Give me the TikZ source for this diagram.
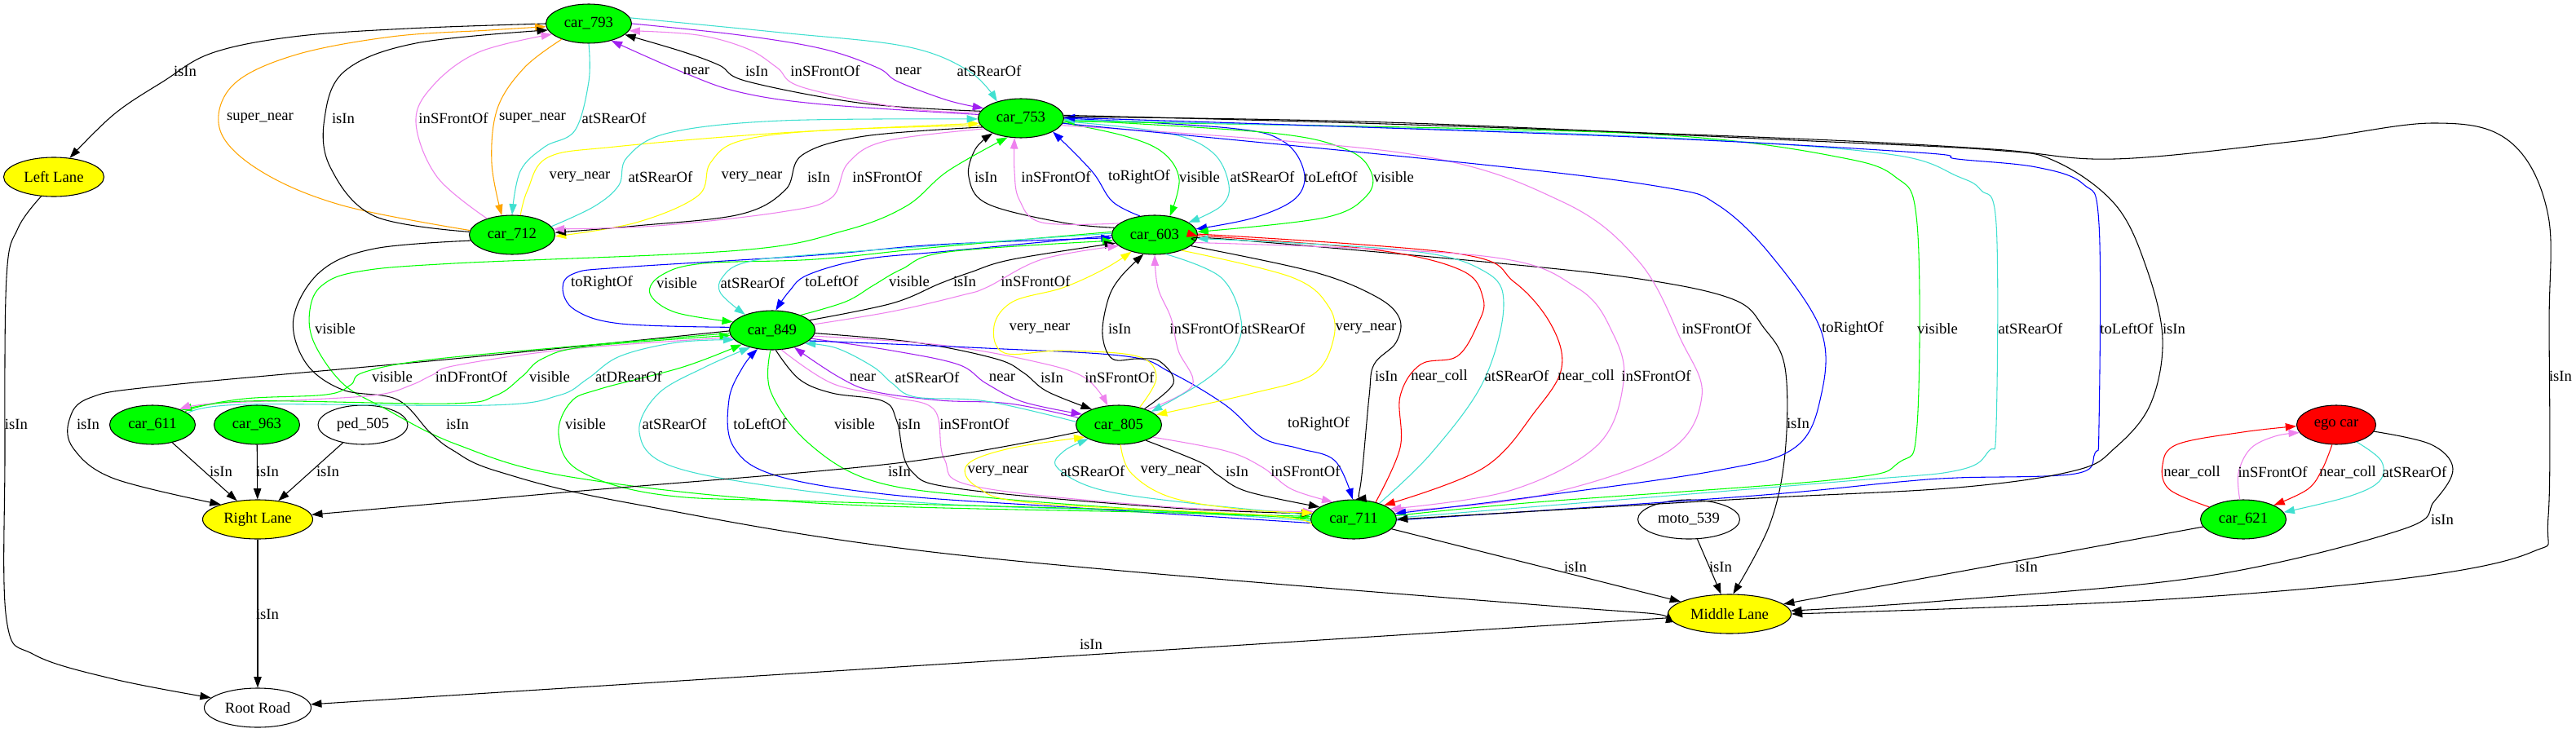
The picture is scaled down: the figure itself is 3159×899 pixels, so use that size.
\documentclass[tikz,border=0pt]{standalone}
\usepackage{fontspec}
\setmainfont{Liberation Serif}
\usetikzlibrary{shapes.geometric,arrows.meta}
\definecolor{ggreen}{RGB}{0,255,0}
\definecolor{gturq}{RGB}{64,224,208}
\definecolor{gviolet}{RGB}{238,130,238}
\definecolor{gpurple}{RGB}{160,32,240}
\definecolor{gorange}{RGB}{255,165,0}
\definecolor{gyellow}{RGB}{255,255,0}
\definecolor{gblue}{RGB}{0,0,255}
\definecolor{gred}{RGB}{255,0,0}
\tikzset{
  nd/.style={ellipse, draw=black, line width=0.8pt, minimum height=36pt, inner sep=0pt, font=\fontsize{14pt}{16pt}\selectfont},
  gr/.style={nd, fill=ggreen, minimum width=78.75pt},
  yl/.style={nd, fill=gyellow},
  wt/.style={nd, fill=white},
  rd/.style={nd, fill=gred},
  e/.style={line width=0.8pt, -{Triangle[length=10pt,width=7pt]}},
  lb/.style={inner sep=0pt, font=\fontsize{14pt}{16pt}\selectfont}
}
\newcommand\edg[2]{\draw[e,#1] plot[smooth,tension=0.6] coordinates {#2};}
\newcommand\lab[3]{\node[lb] (#1) at (#2) {#3};}
\begin{document}
\begin{tikzpicture}[x=0.75pt,y=-0.75pt]
\fill[white] (0,0) rectangle (3159,899);
\useasboundingbox (0,0) rectangle (3159,899);
% nodes
\node[gr] (c793) at (722,29) {car\_793};
\node[yl, minimum width=92.25pt] (LL) at (66,217) {Left Lane};
\node[gr] (c753) at (1252,145) {car\_753};
\node[gr] (c712) at (628,288) {car\_712};
\node[gr] (c603) at (1416,288) {car\_603};
\node[gr] (c849) at (947,405) {car\_849};
\node[gr] (c611) at (187,521) {car\_611};
\node[gr] (c963) at (315,521) {car\_963};
\node[wt, minimum width=82.5pt] (p505) at (445,521) {ped\_505};
\node[gr] (c805) at (1372,521) {car\_805};
\node[gr] (c711) at (1660,637) {car\_711};
\node[yl, minimum width=101.25pt] (RL) at (316,637) {Right Lane};
\node[wt, minimum width=93.75pt] (m539) at (2071,637) {moto\_539};
\node[gr] (c621) at (2751,637) {car\_621};
\node[rd, minimum width=72.75pt] (ego) at (2865,521) {ego car};
\node[yl, minimum width=113.25pt] (ML) at (2121,753) {Middle Lane};
\node[wt, minimum width=98.25pt] (RR) at (316,868) {Root Road};

% edges around car_793
\edg{black}{(c793.180) (500,35) (360,45) (260,65) (200,100) (140,140) (LL.50)}
\edg{gorange}{(c712.174) (420,252) (320,210) (270,160) (285,105) (360,68) (480,45) (600,37) (c793.184)}
\edg{black}{(c712.176) (459,265) (405,205) (398,145) (423,87) (510,53) (c793.189)}
\edg{gviolet}{(c712.147) (536,217) (510,150) (531,105) (587,64) (c793.196)}
\edg{gorange}{(c793.210) (643,83) (610,133) (603,200) (c712.118)}
\edg{gturq}{(c793.270) (722,100) (705,160) (668,180) (638,210) (c712.90)}
\edg{gpurple}{(c753.175) (1009,128) (907,113) (836,88) (c793.323)}
\edg{black}{(c753.170) (1060,127) (917,100) (882,80) (836,63) (c793.343)}
\edg{gviolet}{(c753.172) (1111,133) (984,107) (953,83) (917,60) (856,43) (c793.350)}
\edg{gpurple}{(c793.0) (907,43) (1009,60) (1076,83) (1101,100) (1162,123) (c753.165)}
\edg{gturq}{(c793.8) (958,40) (1111,57) (1188,87) (c753.145)}
% car_712 <-> car_753
\edg{gyellow}{(c712.67) (647,233) (672,193) (754,180) (958,163) (c753.187)}
\edg{gturq}{(c712.12) (729,253) (759,227) (769,193) (820,163) (958,148) (c753.181)}
\edg{gyellow}{(c753.190) (1009,160) (907,173) (871,200) (856,240) (780,273) (c712.358)}
\edg{black}{(c753.193) (1060,167) (984,190) (963,233) (907,263) (780,277) (c712.3)}
\edg{gviolet}{(c753.196) (1086,173) (1040,200) (1019,243) (958,260) (805,277) (c712.8)}
% car_603 <-> car_753
\edg{black}{(c603.170) (1303,273) (1211,250) (1188,217) (1196,183) (c753.208)}
\edg{gviolet}{(c603.162) (1278,273) (1250,245) (1244,210) (c753.252)}
\edg{gblue}{(c603.128) (1364,247) (1339,210) (c753.337)}
\edg{ggreen}{(c753.354) (1380,167) (1426,187) (1446,220) (c603.51)}
\edg{gturq}{(c753.356) (1431,163) (1487,187) (1507,227) (1497,253) (c603.20)}
\edg{gblue}{(c753.0) (1507,157) (1573,173) (1599,210) (1589,243) (1538,267) (c603.8)}
\edg{ggreen}{(c753.358) (1558,163) (1650,183) (1681,210) (1676,240) (1624,267) (c603.4)}
% car_603 <-> car_849
\edg{gblue}{(c849.176) (761,397) (705,380) (690,353) (705,335) (761,328) (1000,313) (1150,300) (c603.184)}
\edg{ggreen}{(c603.176) (1150,303) (1000,318) (863,323) (812,337) (797,360) (828,383) (c849.168)}
\edg{gturq}{(c603.178) (1000,312) (914,322) (886,340) (884,360) (c849.150)}
\edg{gblue}{(c603.181) (1162,308) (1060,318) (991,337) (968,357) (c849.80)}
\edg{ggreen}{(c849.28) (1037,370) (1071,350) (1106,330) (1162,309) (c603.188)}
\edg{black}{(c849.15) (1094,372) (1152,348) (1190,334) (1242,318) (c603.192)}
\edg{gviolet}{(c849.8) (1094,382) (1180,362) (1211,352) (1278,318) (c603.197)}
% car_849 <-> car_805
\edg{gpurple}{(c805.170) (1238,495) (1152,491) (1071,480) (1028,462) (c849.322)}
\edg{gturq}{(c805.176) (1209,492) (1123,487) (1094,470) (1071,450) (1026,427) (c849.338)}
\edg{gpurple}{(c849.348) (1094,430) (1175,447) (1209,470) (1255,493) (c805.164)}
\edg{black}{(c849.356) (1123,420) (1221,440) (1255,457) (1284,480) (c805.150)}
\edg{gviolet}{(c849.352) (1152,423) (1267,443) (1330,463) (c805.120)}
% car_849 <-> car_711
\edg{gturq}{(c711.182) (1439,628) (1152,618) (951,597) (819,570) (784,530) (807,483) (865,450) (c849.218)}
\edg{gblue}{(c711.185) (1324,623) (1094,607) (951,583) (899,547) (894,490) (911,450) (c849.232)}
\edg{ggreen}{(c849.265) (945,480) (991,543) (1071,590) (1209,610) (1439,627) (c711.176)}
\edg{black}{(c849.280) (980,465) (1020,482) (1083,492) (1100,517) (1117,577) (1181,600) (1439,623) (c711.172)}
\edg{gviolet}{(c849.295) (1020,470) (1094,487) (1146,503) (1158,563) (1198,597) (1439,622) (c711.169)}
\edg{gblue}{(c849.344) (1209,427) (1381,437) (1436,457) (1503,497) (1548,537) (1593,550) (1637,565) (c711.93)}
\edg{ggreen}{(c711.180) (1439,627) (1000,615) (812,607) (710,577) (685,533) (700,493) (736,477) (838,450) (c849.205)}
\edg{ggreen}{(c711.178) (1439,629) (1000,617) (700,585) (560,545) (470,500) (420,470) (385,420) (380,380) (395,350) (440,333) (557,323) (907,307) (1035,283) (1111,253) (1162,210) (c753.235)}
% lanes
\edg{black}{(c712.188) (459,305) (393,333) (360,390) (375,445) (420,478) (487,490) (527,530) (555,552) (610,578) (772,617) (1169,680) (1900,743) (ML.178)}
\edg{black}{(c805.190) (1100,568) (702,603) (RL.5)}
\edg{black}{(c849.181) (557,440) (200,473) (110,488) (85,515) (90,550) (140,587) (RL.158)}
\edg{black}{(LL.237) (22,280) (8,340) (6,560) (8,760) (42,803) (140,833) (RR.168)}
\draw[e] (c611) -- (RL);
\draw[e] (c963) -- (RL);
\draw[e] (p505) -- (RL);
\draw[e] (RL) -- (RR);
\draw[e] (ML) -- (RR);
\draw[e] (c711) -- (ML);
\draw[e] (m539) -- (ML);
\draw[e] (c621) -- (ML);
\edg{black}{(ego.350) (2981,545) (3008,575) (2985,615) (2944,650) (2703,707) (2382,737) (ML.3)}
\edg{black}{(c753.4) (1700,152) (2200,170) (2444,183) (2593,195) (2817,173) (2984,151) (3077,173) (3124,260) (3126,400) (3125,633) (3105,677) (2944,710) (2623,737) (ML.0)}
\edg{black}{(c603.352) (1500,293) (1819,321) (2010,342) (2125,367) (2163,402) (2189,451) (2189,556) (2170,644) (ML.80)}
% car_603 <-> car_711
\edg{black}{(c603.343) (1609,333) (1686,363) (1716,390) (1712,420) (1685,447) (1679,486) (1669,591) (c711.85)}
\edg{gred}{(c711.38) (1717,549) (1717,486) (1742,447) (1787,437) (1812,398) (1819,367) (1793,332) (1691,307) (1500,291) (c603.358)}
\edg{gturq}{(c711.32) (1755,556) (1819,468) (1844,374) (1819,332) (1723,307) (c603.355)}
\edg{gred}{(c603.1) (1787,311) (1857,346) (1902,398) (1915,451) (1883,504) (1819,574) (c711.25)}
\edg{gviolet}{(c603.349) (1819,314) (1934,353) (1978,409) (1991,468) (1959,546) (1851,602) (c711.16)}
% car_753 <-> car_711
\edg{gviolet}{(c753.350) (1723,188) (1915,247) (2010,321) (2061,416) (2087,486) (2042,556) (1883,609) (c711.12)}
\edg{gblue}{(c753.353) (1819,202) (2042,230) (2106,251) (2170,311) (2233,405) (2233,486) (2201,549) (2106,577) (1883,609) (c711.8)}
\edg{ggreen}{(c711.5) (1883,616) (2253,588) (2329,567) (2351,521) (2351,275) (2323,216) (2246,191) (2074,168) (1819,158) (c753.356)}
\edg{gturq}{(c711.2) (2253,591) (2400,577) (2439,553) (2448,521) (2448,275) (2429,233) (2400,216) (2329,191) (2138,174) (1819,160) (c753.358)}
\edg{gblue}{(c711.359) (2138,609) (2329,591) (2400,586) (2545,581) (2569,556) (2574,521) (2574,275) (2555,226) (2497,205) (2400,195) (2351,187) (1979,167) (c753.1)}
\edg{black}{(c753.2) (1700,150) (2200,172) (2444,184) (2521,198) (2594,251) (2632,328) (2652,416) (2637,496) (2594,549) (2545,577) (2400,598) (2138,612) (c711.0)}
% car_805 <-> car_603
\edg{gyellow}{(c805.40) (1418,463) (1395,437) (1303,430) (1232,433) (1219,400) (1242,370) (1303,353) (1354,330) (c603.216)}
\edg{black}{(c805.32) (1439,470) (1422,443) (1395,440) (1364,440) (1352,410) (1359,367) (1374,340) (c603.240)}
\edg{gviolet}{(c805.28) (1462,473) (1445,430) (1436,390) (1420,353) (c603.270)}
\edg{gturq}{(c603.300) (1497,340) (1522,393) (1512,433) (1477,467) (c805.22)}
\edg{gyellow}{(c603.330) (1584,340) (1630,377) (1635,417) (1609,460) (1533,483) (c805.15)}
% car_805 <-> car_711
\edg{gturq}{(c711.174) (1459,617) (1347,600) (1296,573) (1305,553) (c805.205)}
\edg{gyellow}{(c805.275) (1387,580) (1436,610) (1526,625) (c711.171)}
\edg{black}{(c805.330) (1472,567) (1494,583) (1530,603) (c711.160)}
\edg{gviolet}{(c805.340) (1503,553) (1548,573) (1584,600) (c711.140)}
\edg{gyellow}{(c711.187) (1554,632) (1267,617) (1198,597) (1186,570) (1238,550) (c805.200)}
% car_849 <-> car_611
\edg{ggreen}{(c849.184) (700,425) (520,442) (445,457) (430,472) (400,484) (300,489) (c611.28)}
\edg{gviolet}{(c849.190) (700,428) (560,448) (530,460) (505,472) (465,484) (380,490) (260,495) (c611.30)}
\edg{ggreen}{(c611.22) (300,492) (550,495) (608,485) (640,462) (665,440) (720,425) (c849.187)}
\edg{gturq}{(c611.18) (300,496) (600,497) (685,485) (720,465) (760,437) (830,420) (c849.194)}
% ego car <-> car_621
\edg{gred}{(c621.160) (2660,600) (2652,570) (2670,545) (2750,530) (ego.182)}
\edg{gviolet}{(c621.100) (2745,580) (2760,550) (2790,535) (ego.192)}
\edg{gred}{(ego.258) (2848,575) (2830,600) (c621.25)}
\edg{gturq}{(ego.320) (2920,565) (2918,590) (2880,609) (c621.10)}

% labels
\lab{l1}{227,87}{isIn}
\lab{l2}{319,145}{super\_near}
\lab{l3}{421,145}{isIn}
\lab{l4}{556,145}{inSFrontOf}
\lab{l5}{653,145}{super\_near}
\lab{l6}{753,145}{atSRearOf}
\lab{l7}{854,87}{near}
\lab{l8}{928,87}{isIn}
\lab{l9}{1012,87}{inSFrontOf}
\lab{l10}{1114,87}{near}
\lab{l11}{1213,87}{atSRearOf}
\lab{l12}{711,217}{very\_near}
\lab{l13}{810,217}{atSRearOf}
\lab{l14}{922,217}{very\_near}
\lab{l15}{1004,217}{isIn}
\lab{l16}{1088,217}{inSFrontOf}
\lab{l17}{1209,217}{isIn}
\lab{l18}{1295,217}{inSFrontOf}
\lab{l19}{1397,217}{toRightOf}
\lab{l20}{1471,217}{visible}
\lab{l21}{1548,217}{atSRearOf}
\lab{l22}{1632,217}{toLeftOf}
\lab{l23}{1709,217}{visible}
\lab{l24}{738,347}{toRightOf}
\lab{l25}{830,347}{visible}
\lab{l26}{923,347}{atSRearOf}
\lab{l27}{1020,345}{toLeftOf}
\lab{l28}{1115,345}{visible}
\lab{l29}{1183,345}{isIn}
\lab{l30}{1270,345}{inSFrontOf}
\lab{l31}{1058,463}{near}
\lab{l32}{1137,463}{atSRearOf}
\lab{l33}{1229,463}{near}
\lab{l34}{1290,463}{isIn}
\lab{l35}{1373,463}{inSFrontOf}
\lab{l36}{827,520}{atSRearOf}
\lab{l37}{932,520}{toLeftOf}
\lab{l38}{1048,520}{visible}
\lab{l39}{1115,520}{isIn}
\lab{l40}{1195,520}{inSFrontOf}
\lab{l41}{1617,520}{toRightOf}
\lab{l42}{718,520}{visible}
\lab{l43}{411,403}{visible}
\lab{l44}{561,520}{isIn}
\lab{l45}{1103,578}{isIn}
\lab{l46}{108,520}{isIn}
\lab{l47}{20,520}{isIn}
\lab{l48}{271,578}{isIn}
\lab{l49}{328,578}{isIn}
\lab{l50}{402,578}{isIn}
\lab{l51}{328,753}{isIn}
\lab{l52}{1338,790}{isIn}
\lab{l53}{1932,695}{isIn}
\lab{l54}{2110,695}{isIn}
\lab{l55}{2485,695}{isIn}
\lab{l56}{2995,637}{isIn}
\lab{l57}{3140,461}{isIn}
\lab{l58}{2205,519}{isIn}
\lab{l59}{1700,461}{isIn}
\lab{l60}{1765,461}{near\_coll}
\lab{l61}{1860,461}{atSRearOf}
\lab{l62}{1945,461}{near\_coll}
\lab{l63}{2031,461}{inSFrontOf}
\lab{l64}{2105,403}{inSFrontOf}
\lab{l65}{2272,403}{toRightOf}
\lab{l66}{2376,403}{visible}
\lab{l67}{2490,403}{atSRearOf}
\lab{l68}{2608,403}{toLeftOf}
\lab{l69}{2666,403}{isIn}
\lab{l70}{1275,403}{very\_near}
\lab{l71}{1373,403}{isIn}
\lab{l72}{1477,403}{inSFrontOf}
\lab{l73}{1561,403}{atSRearOf}
\lab{l74}{1675,403}{very\_near}
\lab{l75}{1340,578}{atSRearOf}
\lab{l76}{1436,578}{very\_near}
\lab{l77}{1517,578}{isIn}
\lab{l78}{1601,578}{inSFrontOf}
\lab{l79}{1224,578}{very\_near}
\lab{l80}{481,462}{visible}
\lab{l81}{578,462}{inDFrontOf}
\lab{l82}{674,462}{visible}
\lab{l83}{771,462}{atDRearOf}
\lab{l84}{2688,579}{near\_coll}
\lab{l85}{2787,579}{inSFrontOf}
\lab{l86}{2879,579}{near\_coll}
\lab{l87}{2961,579}{atSRearOf}
\end{tikzpicture}
\end{document}
